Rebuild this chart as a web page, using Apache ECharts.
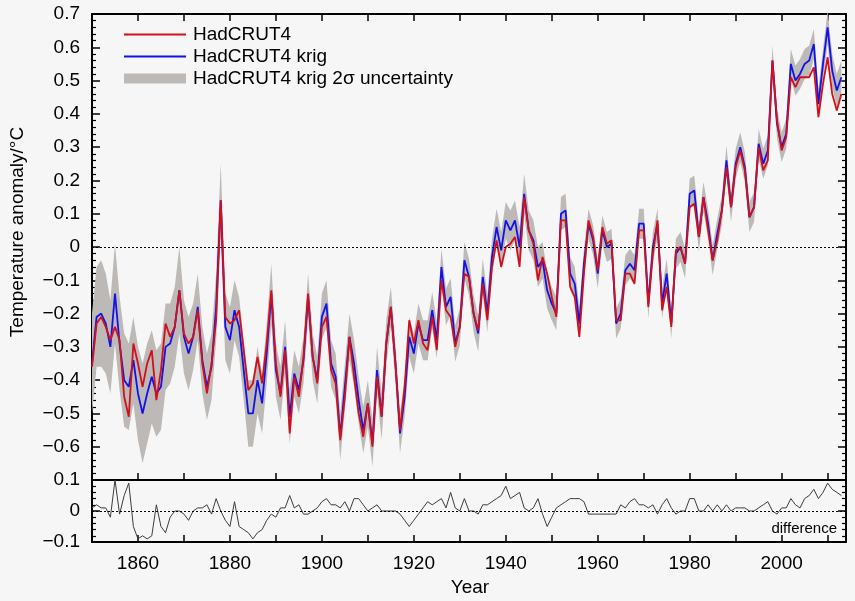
<!DOCTYPE html>
<html>
<head>
<meta charset="utf-8">
<script src="https://cdn.jsdelivr.net/npm/echarts@6/dist/echarts.min.js"></script>
<style>
html,body{margin:0;padding:0;background:#f6f6f6;}
#c{width:855px;height:601px;}
</style>
</head>
<body>
<div id="c"></div>
<script>
var startYear = 1850;
var hadcrut4 = [
-0.36,-0.23,-0.21,-0.24,-0.28,-0.24,-0.28,-0.45,-0.51,-0.29,
-0.35,-0.42,-0.35,-0.31,-0.46,-0.37,-0.23,-0.27,-0.24,-0.13,
-0.26,-0.29,-0.27,-0.19,-0.35,-0.44,-0.35,-0.22,0.14,-0.21,
-0.23,-0.22,-0.19,-0.31,-0.43,-0.41,-0.33,-0.41,-0.29,-0.13,
-0.35,-0.45,-0.31,-0.56,-0.39,-0.45,-0.33,-0.14,-0.33,-0.41,
-0.24,-0.21,-0.37,-0.41,-0.58,-0.45,-0.27,-0.39,-0.50,-0.57,
-0.47,-0.60,-0.39,-0.51,-0.29,-0.18,-0.35,-0.55,-0.42,-0.22,
-0.29,-0.22,-0.29,-0.31,-0.21,-0.31,-0.10,-0.19,-0.21,-0.30,
-0.24,-0.08,-0.09,-0.20,-0.25,-0.11,-0.22,-0.06,0.02,-0.06,
0.00,0.01,0.03,-0.06,0.15,0.05,0.01,-0.10,-0.03,-0.08,
-0.15,-0.21,0.08,0.08,-0.12,-0.15,-0.27,-0.08,0.08,0.03,
-0.07,0.06,0.01,0.02,-0.22,-0.22,-0.08,-0.08,-0.11,0.05,
0.05,-0.18,-0.02,0.08,-0.19,-0.12,-0.24,-0.01,0.00,-0.05,
0.12,0.13,0.03,0.15,0.05,-0.04,0.02,0.11,0.24,0.12,
0.24,0.29,0.23,0.09,0.12,0.30,0.23,0.26,0.56,0.38,
0.29,0.33,0.51,0.48,0.51,0.51,0.51,0.54,0.39,0.49,
0.57,0.46,0.41,0.46
];
var hadcrut4Krig = [
-0.35,-0.21,-0.20,-0.23,-0.30,-0.14,-0.29,-0.40,-0.42,-0.34,
-0.44,-0.50,-0.44,-0.39,-0.44,-0.42,-0.30,-0.29,-0.24,-0.13,
-0.27,-0.32,-0.27,-0.18,-0.34,-0.42,-0.36,-0.18,0.14,-0.24,
-0.28,-0.19,-0.24,-0.37,-0.50,-0.50,-0.40,-0.47,-0.32,-0.14,
-0.37,-0.44,-0.30,-0.51,-0.38,-0.43,-0.34,-0.15,-0.33,-0.40,
-0.21,-0.17,-0.35,-0.39,-0.57,-0.42,-0.27,-0.35,-0.46,-0.55,
-0.47,-0.59,-0.37,-0.51,-0.29,-0.18,-0.35,-0.56,-0.45,-0.27,
-0.32,-0.23,-0.28,-0.28,-0.19,-0.28,-0.06,-0.18,-0.15,-0.29,
-0.24,-0.04,-0.09,-0.20,-0.26,-0.09,-0.20,-0.03,0.06,-0.01,
0.08,0.05,0.08,0.00,0.16,0.05,0.02,-0.06,-0.04,-0.13,
-0.17,-0.20,0.10,0.11,-0.08,-0.11,-0.23,-0.05,0.07,0.02,
-0.08,0.05,0.00,0.01,-0.23,-0.20,-0.07,-0.05,-0.07,0.07,
0.07,-0.17,0.00,0.07,-0.17,-0.08,-0.23,-0.02,0.00,-0.05,
0.16,0.17,0.03,0.15,0.07,-0.04,0.04,0.11,0.26,0.12,
0.25,0.30,0.24,0.09,0.12,0.31,0.25,0.29,0.56,0.37,
0.30,0.34,0.55,0.50,0.52,0.55,0.56,0.61,0.43,0.55,
0.66,0.53,0.47,0.51
];
var krigUncertainty2s = [
0.15,0.15,0.16,0.15,0.14,0.15,0.14,0.14,0.13,0.13,
0.14,0.15,0.15,0.14,0.13,0.13,0.13,0.12,0.12,0.13,
0.11,0.11,0.10,0.10,0.10,0.10,0.10,0.10,0.11,0.10,
0.10,0.09,0.09,0.09,0.10,0.10,0.10,0.09,0.09,0.09,
0.08,0.08,0.08,0.08,0.07,0.07,0.07,0.07,0.07,0.07,
0.07,0.07,0.07,0.07,0.07,0.07,0.07,0.07,0.07,0.07,
0.07,0.07,0.07,0.07,0.07,0.06,0.06,0.06,0.06,0.06,
0.06,0.06,0.06,0.06,0.055,0.055,0.055,0.055,0.055,0.055,
0.055,0.055,0.055,0.055,0.055,0.055,0.055,0.055,0.055,0.055,
0.055,0.06,0.06,0.06,0.06,0.06,0.06,0.06,0.055,0.055,
0.05,0.05,0.05,0.05,0.05,0.05,0.05,0.045,0.045,0.045,
0.045,0.045,0.045,0.045,0.045,0.045,0.045,0.045,0.045,0.045,
0.045,0.045,0.045,0.045,0.045,0.045,0.045,0.045,0.045,0.045,
0.045,0.045,0.045,0.045,0.045,0.045,0.045,0.045,0.045,0.045,
0.045,0.045,0.045,0.045,0.045,0.045,0.045,0.045,0.045,0.045,
0.045,0.045,0.045,0.045,0.045,0.045,0.045,0.045,0.045,0.045,
0.05,0.05,0.05,0.05
];
var difference = [
0.01,0.02,0.01,0.01,-0.02,0.10,-0.01,0.05,0.09,-0.05,
-0.09,-0.08,-0.09,-0.08,0.02,-0.05,-0.07,-0.02,0.00,0.00,
-0.01,-0.03,0.00,0.01,0.01,0.02,-0.01,0.04,0.00,-0.03,
-0.05,0.03,-0.05,-0.06,-0.07,-0.09,-0.07,-0.06,-0.03,-0.01,
-0.02,0.01,0.01,0.05,0.01,0.02,-0.01,-0.01,0.00,0.01,
0.03,0.04,0.02,0.02,0.01,0.03,0.00,0.04,0.04,0.02,
0.00,0.01,0.02,0.00,0.00,0.00,0.00,-0.01,-0.03,-0.05,
-0.03,-0.01,0.01,0.03,0.02,0.03,0.04,0.01,0.06,0.01,
0.00,0.04,0.00,0.00,-0.01,0.02,0.02,0.03,0.04,0.05,
0.08,0.04,0.05,0.06,0.01,0.00,0.01,0.04,-0.01,-0.05,
-0.02,0.01,0.02,0.03,0.04,0.04,0.04,0.03,-0.01,-0.01,
-0.01,-0.01,-0.01,-0.01,-0.01,0.02,0.01,0.03,0.04,0.02,
0.02,0.01,0.02,-0.01,0.02,0.04,0.01,-0.01,0.00,0.00,
0.04,0.04,0.00,0.00,0.02,0.00,0.02,0.00,0.02,0.00,
0.01,0.01,0.01,0.00,0.00,0.01,0.02,0.03,0.00,-0.01,
0.01,0.01,0.04,0.02,0.01,0.04,0.05,0.07,0.04,0.06,
0.09,0.07,0.06,0.05
];
var legendNames = ['HadCRUT4', 'HadCRUT4 krig', 'HadCRUT4 krig 2\u03c3 uncertainty'];
var xTickLabels = [1860, 1880, 1900, 1920, 1940, 1960, 1980, 2000];

function pairs(arr) { return arr.map(function (v, i) { return [startYear + i, v]; }); }
var bandData = hadcrut4Krig.map(function (v, i) {
  return [startYear + i, v - krigUncertainty2s[i], v + krigUncertainty2s[i]];
});

var FONT = 'Liberation Sans, Arial, sans-serif';
function fmtMain(v) {
  if (Math.abs(v + 0.7) < 1e-6) return '';
  if (Math.abs(v) < 1e-9) return '0';
  return v.toFixed(1).replace('-', '\u2212');
}
function fmtDiff(v) {
  if (Math.abs(v) < 1e-9) return '0';
  return v.toFixed(1).replace('-', '\u2212');
}
var xCommon = { type: 'value', min: 1850, max: 2014, interval: 10,
  splitLine: { show: false },
  axisLine: { show: true, onZero: false, lineStyle: { color: '#000', width: 2 } },
  axisTick: { show: true, inside: true, length: 7, lineStyle: { color: '#000', width: 1.5 } } };
function yAx(grid, pos, min, max, labels, fmt) {
  return { type: 'value', gridIndex: grid, position: pos, min: min, max: max, interval: 0.1,
    splitLine: { show: false },
    axisLine: { show: true, onZero: false, lineStyle: { color: '#000', width: 2 } },
    axisTick: { show: true, inside: true, length: 8, lineStyle: { color: '#000', width: 1.5 } },
    minorTick: { show: true, splitNumber: 5, length: 4, lineStyle: { color: '#000', width: 1.2 } },
    axisLabel: { show: labels, formatter: fmt, color: '#000', fontSize: 19, fontFamily: FONT, margin: 12,
      showMinLabel: true, showMaxLabel: true } };
}
var chart = echarts.init(document.getElementById('c'));
chart.setOption({
  backgroundColor: '#f6f6f6',
  animation: false,
  grid: [
    { left: 92, right: 9, top: 14, height: 466, show: false },
    { left: 92, right: 9, top: 480, height: 62, show: false }
  ],
  xAxis: [
    Object.assign({}, xCommon, { gridIndex: 0, position: 'bottom', axisLabel: { show: false } }),
    Object.assign({}, xCommon, { gridIndex: 0, position: 'top', axisLabel: { show: false } }),
    Object.assign({}, xCommon, { gridIndex: 1, position: 'bottom',
      axisLabel: { show: true, color: '#000', fontSize: 19, fontFamily: FONT, margin: 12, showMaxLabel: false,
        formatter: function (v) { return xTickLabels.indexOf(v) >= 0 ? String(v) : ''; } } }),
    Object.assign({}, xCommon, { gridIndex: 1, position: 'top', axisTick: { show: false }, axisLabel: { show: false } })
  ],
  yAxis: [
    yAx(0, 'left', -0.7, 0.7, true, fmtMain),
    yAx(0, 'right', -0.7, 0.7, false, fmtMain),
    yAx(1, 'left', -0.1, 0.1, true, fmtDiff),
    yAx(1, 'right', -0.1, 0.1, false, fmtDiff)
  ],
  legend: {
    orient: 'vertical', left: 118, top: 20, itemWidth: 62, itemHeight: 10, itemGap: 3,
    textStyle: { fontSize: 19, fontFamily: FONT, color: '#000', padding: [0, 0, 0, 2], lineHeight: 19 },
    selectedMode: false,
    data: [
      { name: legendNames[0], itemStyle: { opacity: 0 } },
      { name: legendNames[1], itemStyle: { opacity: 0 } },
      { name: legendNames[2], icon: 'rect' }
    ]
  },
  graphic: [
    { type: 'text', x: 18, y: 232, rotation: Math.PI / 2,
      style: { text: 'Temperature anomaly/\u00b0C', font: '19px ' + FONT, fill: '#000', align: 'center', verticalAlign: 'middle' } },
    { type: 'text', x: 470, y: 588,
      style: { text: 'Year', font: '19px ' + FONT, fill: '#000', align: 'center', verticalAlign: 'middle' } },
    { type: 'text', x: 837, y: 529,
      style: { text: 'difference', font: '15px ' + FONT, fill: '#000', align: 'right', verticalAlign: 'middle' } }
  ],
  series: [
    { name: legendNames[2], type: 'custom', xAxisIndex: 0, yAxisIndex: 0, data: bandData,
      encode: { x: 0, y: [1, 2] }, itemStyle: { color: '#bdb9b6' }, silent: true, z: 1,
      renderItem: function (params, api) {
        if (params.dataIndex !== 0) return null;
        var pts = [];
        for (var i = 0; i < bandData.length; i++) pts.push(api.coord([bandData[i][0], bandData[i][2]]));
        for (var j = bandData.length - 1; j >= 0; j--) pts.push(api.coord([bandData[j][0], bandData[j][1]]));
        return { type: 'polygon', shape: { points: pts }, style: { fill: '#bdb9b6' } };
      } },
    { name: legendNames[1], type: 'line', xAxisIndex: 0, yAxisIndex: 0, data: pairs(hadcrut4Krig),
      showSymbol: false, symbol: 'none', lineStyle: { color: '#1212e8', width: 1.8 }, itemStyle: { color: '#1212e8' }, z: 3 },
    { name: legendNames[0], type: 'line', xAxisIndex: 0, yAxisIndex: 0, data: pairs(hadcrut4),
      showSymbol: false, symbol: 'none', lineStyle: { color: '#d0101c', width: 1.8 }, itemStyle: { color: '#d0101c' }, z: 4,
      markLine: { silent: true, symbol: 'none', label: { show: false },
        lineStyle: { color: '#000', type: [2, 2], width: 1 }, data: [{ yAxis: 0 }] } },
    { name: 'difference', type: 'line', xAxisIndex: 2, yAxisIndex: 2, data: pairs(difference),
      showSymbol: false, symbol: 'none', lineStyle: { color: '#3c3c3c', width: 1 }, z: 3,
      markLine: { silent: true, symbol: 'none', label: { show: false },
        lineStyle: { color: '#000', type: [2, 2], width: 1 }, data: [{ yAxis: 0 }] } }
  ]
});
</script>
</body>
</html>
